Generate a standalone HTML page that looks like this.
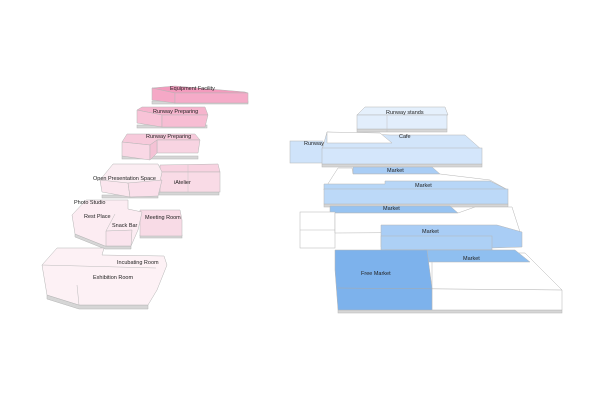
<!DOCTYPE html>
<html><head><style>
html,body{margin:0;padding:0;background:#fff;width:600px;height:400px;overflow:hidden}
text{font-family:"Liberation Sans",sans-serif;font-size:5.5px;fill:#222}
polygon,rect{stroke:#b5b5b5;stroke-width:0.5}
</style></head><body>
<svg width="600" height="400" viewBox="0 0 600 400">
<!-- LEFT -->
<rect x="152" y="101" width="96" height="3" fill="#d6d6d6"/>
<polygon points="152,88 175,86 245,92 248,93 175,93" fill="#f39bbd"/>
<polygon points="152,88 175,93 175,103 152,100" fill="#f5a8c6"/>
<rect x="175" y="93" width="73" height="10" fill="#f5abc8"/>
<text x="170" y="90">Equipment Facility</text>

<rect x="137" y="125" width="70" height="3" fill="#d6d6d6"/>
<polygon points="142,107 205,107 208,115 162,115 137,110" fill="#f6b4cd"/>
<polygon points="137,110 162,115 162,127 137,123" fill="#f8c3d7"/>
<polygon points="162,115 208,115 205,127 162,127" fill="#f7bdd3"/>
<text x="153" y="113">Runway Preparing</text>

<rect x="122" y="156" width="76" height="3" fill="#d6d6d6"/>
<polygon points="127,134 195,134 200,140 157,140 150,145 122,142" fill="#f7cadb"/>
<polygon points="157,140 200,140 198,153 157,153" fill="#f8d4e2"/>
<polygon points="122,142 150,145 150,160 122,156" fill="#f9d8e5"/>
<polygon points="150,145 157,140 157,153 150,160" fill="#f4c2d5"/>
<text x="146" y="138">Runway Preparing</text>

<rect x="159" y="192" width="60" height="3" fill="#d6d6d6"/>
<polygon points="160,165 218,164 220,172 160,172" fill="#f8d3e1"/>
<rect x="160" y="172" width="60" height="20" fill="#f9dbe6"/>
<line x1="188" y1="165" x2="188" y2="192" stroke="#c5c5c5" stroke-width="0.5"/>
<text x="174" y="184">iAtelier</text>

<rect x="102" y="195" width="56" height="3" fill="#d6d6d6"/>
<polygon points="113,164 158,164 162,172 159,186 150,196 102,190 100,180" fill="#fbedf2"/>
<polygon points="100,180 128,183 130,197 102,192" fill="#fbe6ee"/>
<polygon points="128,183 162,180 158,196 130,197" fill="#fadfea"/>
<text x="93" y="180">Open Presentation Space</text>

<rect x="140" y="235" width="42" height="3" fill="#d6d6d6"/>
<polygon points="140,210 180,210 182,220 182,236 140,236" fill="#f8dbe6"/>
<text x="145" y="219">Meeting Room</text>

<polygon points="75,234 105,246 131,246 131,249 105,249 75,237" fill="#d6d6d6"/>
<polygon points="86,200 128,200 128,209 142,212 138,230 131,246 105,246 75,234 72,215" fill="#fcecf2"/>
<polygon points="106,231 132,230 131,246 106,246" fill="#fae4ed"/>
<line x1="106" y1="231" x2="115" y2="214" stroke="#bbb" stroke-width="0.5"/>
<text x="74" y="204">Photo Studio</text>
<text x="84" y="218">Rest Place</text>
<text x="112" y="227">Snack Bar</text>

<polygon points="47,295 79,305 148,305 148,309 79,309 47,299" fill="#d6d6d6"/>
<polygon points="57,248 104,248 102,255 164,256 167,265 157,290 148,305 79,305 47,295 42,265" fill="#fdf1f5"/>
<line x1="42" y1="265" x2="156" y2="268" stroke="#bbb" stroke-width="0.5"/>
<line x1="77" y1="285" x2="79" y2="305" stroke="#bbb" stroke-width="0.5"/>
<text x="117" y="264">Incubating Room</text>
<text x="93" y="279">Exhibition Room</text>

<!-- RIGHT -->
<rect x="357" y="129" width="90" height="3" fill="#d6d6d6"/>
<polygon points="365,107 445,107 448,115 357,115" fill="#e5f0fc"/>
<rect x="357" y="115" width="90" height="14" fill="#e2eefc"/>
<line x1="387" y1="115" x2="387" y2="132" stroke="#c0c0c0" stroke-width="0.5"/>
<text x="386" y="114">Runway stands</text>

<rect x="290" y="141" width="33" height="22" fill="#cfe3fa"/>
<text x="304" y="145">Runway</text>
<rect x="322" y="164" width="160" height="3" fill="#d6d6d6"/>
<polygon points="327,132 390,135 465,135 482,150 322,150" fill="#d2e5fa"/>
<polygon points="327,132 380,133 392,143 327,143" fill="#fff"/>
<rect x="322" y="148" width="160" height="16" fill="#d4e6fb"/>
<text x="399" y="138">Cafe</text>

<polygon points="353,167 432,167 440,174 353,174" fill="#a9cdf5"/>
<text x="387" y="172">Market</text>

<rect x="324" y="204" width="184" height="3" fill="#d6d6d6"/>
<polygon points="338,168 352,168 353,174 440,174 490,180 508,190 324,190" fill="#fff"/>
<polygon points="385,181 490,181 508,190 324,190 324,184 385,184" fill="#b7d6f7"/>
<rect x="324" y="189" width="184" height="15" fill="#bcd9f8"/>
<text x="415" y="187">Market</text>

<polygon points="330,206 450,206 458,213 330,213" fill="#97c3f1"/>
<text x="383" y="210">Market</text>

<rect x="300" y="212" width="35" height="36" fill="#fff"/>
<line x1="300" y1="230" x2="335" y2="230" stroke="#bbb" stroke-width="0.5"/>
<polygon points="335,213 458,213 475,207 512,207 520,232 335,233" fill="#fff"/>
<polygon points="381,225 497,225 522,232 522,247 491,248 381,247" fill="#a9cdf5"/>
<rect x="381" y="236" width="111" height="14" fill="#add0f5"/>
<rect x="385" y="250" width="108" height="3" fill="#d6d6d6"/>
<text x="422" y="233">Market</text>

<rect x="338" y="310" width="224" height="3" fill="#d6d6d6"/>
<polygon points="432,253 525,253 562,290 562,310 432,310" fill="#fff"/>
<polygon points="424,250 515,250 530,262 424,262" fill="#8fbff0"/>
<text x="463" y="260">Market</text>
<polygon points="335,250 427,250 432,288 432,310 338,310 335,270" fill="#7db2ec"/>
<line x1="338" y1="288" x2="562" y2="290" stroke="#aaa" stroke-width="0.5"/>
<text x="361" y="275">Free Market</text>
</svg>
</body></html>
